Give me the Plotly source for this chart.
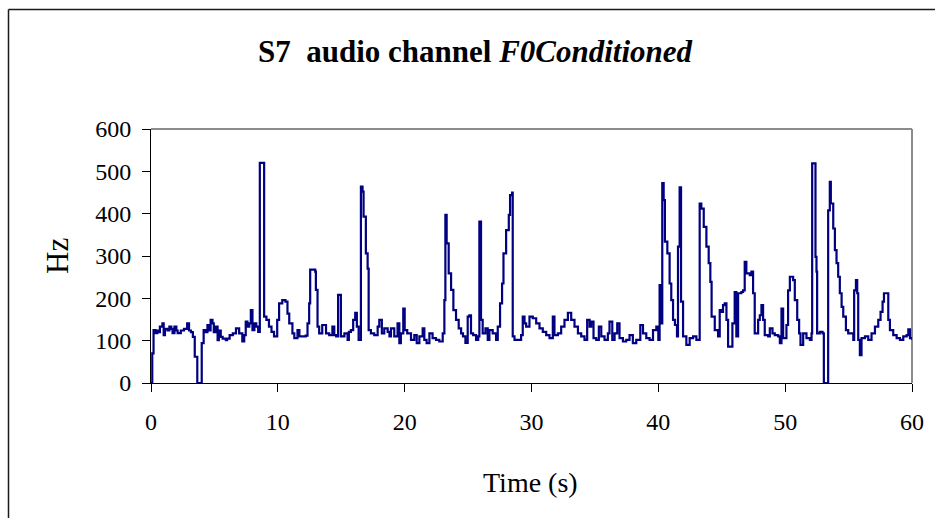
import plotly.graph_objects as go

# Fundamental frequency track (sample-and-hold steps), time in seconds, F0 in Hz
time_s = [
    0.0, 0.1, 0.2, 0.35, 0.5, 0.6, 0.7, 0.9, 1.0, 1.1, 1.3, 1.45, 1.6, 1.7, 1.85, 2.0, 2.1, 2.35, 2.6, 2.85,
    3.0, 3.15, 3.3, 3.45, 3.65, 4.0, 4.15, 4.3, 4.45, 4.55, 4.7, 4.85, 4.95, 5.1, 5.25, 5.35, 5.5, 5.65, 5.9, 6.0,
    6.2, 6.45, 6.7, 6.95, 7.2, 7.35, 7.47, 7.6, 7.75, 7.87, 8.0, 8.15, 8.3, 8.45, 8.58, 8.92, 9.1, 9.3, 9.5, 9.7,
    9.95, 10.1, 10.35, 10.6, 10.76, 10.9, 11.15, 11.3, 11.55, 11.7, 11.95, 12.2, 12.34, 12.47, 12.55, 12.95, 13.0, 13.13, 13.26, 13.5,
    13.8, 14.05, 14.3, 14.45, 14.6, 14.75, 14.97, 15.25, 15.5, 15.6, 15.76, 15.94, 16.1, 16.23, 16.37, 16.55, 16.68, 16.76, 16.94, 17.08,
    17.16, 17.34, 17.6, 17.87, 18.0, 18.2, 18.39, 18.66, 18.8, 18.92, 19.18, 19.44, 19.58, 19.7, 19.89, 20.0, 20.2, 20.5, 20.76, 20.95,
    21.16, 21.42, 21.55, 21.73, 21.95, 22.2, 22.47, 22.73, 23.0, 23.13, 23.21, 23.31, 23.47, 23.66, 23.84, 24.05, 24.26, 24.45, 24.6, 24.79,
    24.97, 25.1, 25.23, 25.4, 25.63, 25.8, 25.89, 26.02, 26.15, 26.37, 26.55, 26.68, 26.94, 27.21, 27.34, 27.52, 27.68, 27.79, 28.0, 28.21,
    28.31, 28.47, 28.52, 28.66, 29.0, 29.18, 29.31, 29.45, 29.58, 29.84, 30.1, 30.37, 30.63, 30.89, 31.16, 31.42, 31.68, 31.81, 32.08, 32.34,
    32.6, 32.87, 33.13, 33.39, 33.66, 33.92, 34.18, 34.39, 34.58, 34.71, 34.89, 35.1, 35.31, 35.5, 35.76, 36.02, 36.15, 36.37, 36.55, 36.76,
    36.94, 37.21, 37.47, 37.73, 37.99, 38.26, 38.58, 38.79, 39.05, 39.31, 39.58, 39.84, 40.0, 40.1, 40.24, 40.31, 40.42, 40.52, 40.71, 40.89,
    41.02, 41.16, 41.31, 41.47, 41.55, 41.68, 41.79, 41.95, 42.21, 42.47, 42.74, 43.0, 43.26, 43.39, 43.58, 43.79, 43.97, 44.1, 44.2, 44.45,
    44.71, 44.84, 44.97, 45.1, 45.23, 45.37, 45.5, 45.84, 46.02, 46.15, 46.29, 46.55, 46.68, 46.81, 46.94, 47.21, 47.34, 47.47, 47.6, 47.87,
    48.0, 48.13, 48.26, 48.39, 48.66, 48.79, 49.0, 49.18, 49.45, 49.58, 49.71, 49.84, 50.1, 50.23, 50.37, 50.63, 50.76, 50.95, 51.1, 51.21,
    51.42, 51.68, 51.95, 52.08, 52.13, 52.39, 52.47, 52.52, 52.73, 52.95, 53.05, 53.39, 53.52, 53.6, 53.79, 53.92, 54.05, 54.18, 54.31, 54.45,
    54.58, 54.79, 54.97, 55.2, 55.37, 55.44, 55.58, 55.68, 55.76, 55.89, 56.02, 56.29, 56.55, 56.81, 57.08, 57.34, 57.52, 57.68, 57.79, 58.0,
    58.13, 58.26, 58.52, 58.79, 59.05, 59.31, 59.58, 59.71, 59.84, 60.0,
]

f0_hz = [
    0, 70, 125, 118, 124, 120, 133, 141, 113, 128, 124, 133, 128, 118, 133, 124, 118, 124, 128, 141,
    124, 120, 109, 62, 0, 94, 125, 120, 137, 124, 149, 141, 120, 133, 101, 124, 109, 105, 101, 105,
    113, 117, 129, 117, 98, 113, 145, 133, 141, 172, 125, 141, 133, 121, 520, 157, 149, 133, 121, 110,
    149, 188, 196, 192, 164, 141, 117, 106, 125, 110, 110, 112, 141, 188, 268, 263, 220, 133, 117, 137,
    117, 113, 133, 113, 110, 208, 110, 117, 102, 121, 125, 149, 166, 133, 102, 464, 452, 393, 306, 270,
    125, 117, 113, 133, 149, 117, 129, 121, 110, 129, 110, 141, 94, 117, 176, 125, 117, 102, 113, 94,
    110, 129, 102, 94, 117, 106, 102, 98, 117, 196, 397, 330, 259, 220, 172, 149, 129, 117, 110, 95,
    157, 160, 117, 113, 102, 110, 381, 149, 117, 129, 102, 125, 117, 102, 133, 188, 235, 306, 361, 397,
    444, 450, 110, 102, 102, 113, 157, 141, 133, 157, 153, 141, 129, 121, 113, 106, 157, 113, 117, 133,
    149, 166, 149, 133, 117, 110, 102, 149, 133, 145, 106, 102, 133, 110, 102, 117, 145, 102, 117, 141,
    106, 98, 102, 113, 94, 102, 137, 117, 106, 102, 125, 133, 102, 231, 141, 472, 432, 334, 306, 235,
    196, 149, 137, 110, 322, 462, 192, 110, 90, 106, 110, 102, 424, 412, 369, 322, 283, 239, 157, 125,
    110, 172, 168, 184, 188, 149, 86, 141, 215, 110, 212, 215, 219, 286, 259, 255, 263, 212, 117, 149,
    160, 184, 149, 113, 110, 129, 117, 113, 110, 94, 176, 106, 137, 219, 251, 243, 196, 149, 117, 90,
    117, 106, 102, 117, 519, 298, 263, 117, 121, 117, 0, 408, 475, 424, 365, 314, 283, 251, 212, 180,
    157, 125, 117, 117, 102, 219, 243, 212, 102, 66, 106, 110, 102, 117, 133, 149, 168, 192, 212, 212,
    149, 125, 113, 106, 102, 110, 113, 127, 106, 102,
]

x_ticks = [0, 10, 20, 30, 40, 50, 60]
y_ticks = [0, 100, 200, 300, 400, 500, 600]

SERIF = "Liberation Serif, Times New Roman, serif"

fig = go.Figure()
fig.add_trace(go.Scatter(
    x=time_s, y=f0_hz, mode="lines", line_shape="hv",
    line=dict(color="#000080", width=2.2), hoverinfo="x+y", showlegend=False,
))

# plot area geometry in pixels
L, R, T, B = 151, 912, 129, 383
W, H = 935, 518
pw, ph = R - L, B - T

def px_x(px):
    return (px - L) / pw

def px_y(py):
    return (B - py) / ph

fig.update_layout(
    width=W, height=H,
    margin=dict(l=L, r=W - R, t=T, b=H - B, pad=0),
    paper_bgcolor="white", plot_bgcolor="white",
    font=dict(family=SERIF, color="black"),
    title=dict(
        text="<b>S7\u00a0\u00a0audio channel <i>F0Conditioned</i></b>",
        font=dict(family=SERIF, size=31, color="black"),
        x=475 / W, xref="container", xanchor="center",
        y=1 - 51 / H, yref="container", yanchor="middle",
    ),
    xaxis=dict(
        range=[0, 60], tickvals=x_ticks, ticktext=[str(v) for v in x_ticks],
        showgrid=False, zeroline=False,
        showline=True, linecolor="black", linewidth=1,
        ticks="outside", ticklen=8, tickcolor="black", tickwidth=1,
        tickfont=dict(family=SERIF, size=24, color="black"),
        ticklabelstandoff=9,
    ),
    yaxis=dict(
        range=[0, 600], tickvals=y_ticks, ticktext=[str(v) for v in y_ticks],
        showgrid=False, zeroline=False,
        showline=True, linecolor="black", linewidth=1,
        ticks="outside", ticklen=8, tickcolor="black", tickwidth=1,
        tickfont=dict(family=SERIF, size=24, color="black"),
        ticklabelstandoff=6,
    ),
    shapes=[
        # grey border on the top and right of the plot area
        dict(type="line", xref="paper", yref="paper", x0=0, x1=1, y0=1, y1=1,
             line=dict(color="#8c8c8c", width=2), layer="below"),
        dict(type="line", xref="paper", yref="paper", x0=1, x1=1, y0=0, y1=1,
             line=dict(color="#8c8c8c", width=2), layer="below"),
        # outer chart frame
        dict(type="line", xref="paper", yref="paper",
             x0=px_x(8.5), x1=px_x(8.5), y0=px_y(9.5), y1=px_y(530),
             line=dict(color="#1a1a1a", width=1.5)),
        dict(type="line", xref="paper", yref="paper",
             x0=px_x(8.5), x1=px_x(945), y0=px_y(9.5), y1=px_y(9.5),
             line=dict(color="#1a1a1a", width=1.5)),
    ],
    annotations=[
        dict(text="Hz", xref="paper", yref="paper", x=px_x(57), y=0.5,
             xanchor="center", yanchor="middle", textangle=-90, showarrow=False,
             font=dict(family=SERIF, size=31, color="black")),
        dict(text="Time (s)", xref="paper", yref="paper", x=px_x(530), y=px_y(482),
             xanchor="center", yanchor="middle", showarrow=False,
             font=dict(family=SERIF, size=28, color="black")),
    ],
)

fig.write_html("out.html")
